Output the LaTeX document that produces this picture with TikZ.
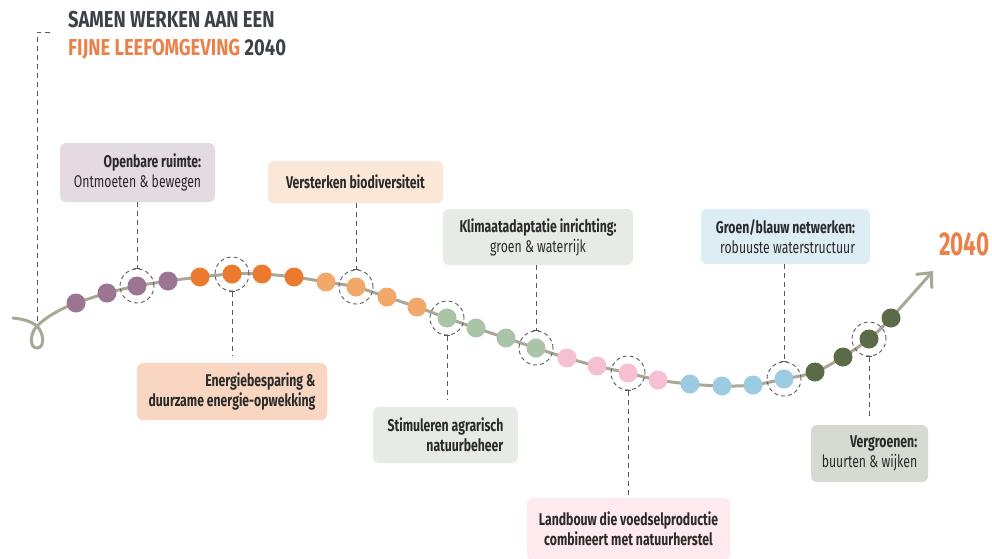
\documentclass[tikz,border=0pt]{standalone}
\usepackage{fontspec}
\setmainfont{Fira Sans}[FakeStretch=0.72]
\newfontfamily\titlefont{Fira Sans}[FakeStretch=0.8]
\newfontfamily\bigfont{Fira Sans}[FakeStretch=0.68]
\usetikzlibrary{arrows.meta}
\definecolor{cpur}{HTML}{9B7592}
\definecolor{cora}{HTML}{EA7A30}
\definecolor{clor}{HTML}{F2A76B}
\definecolor{csag}{HTML}{A9C4A6}
\definecolor{cpin}{HTML}{F4C0D2}
\definecolor{cblu}{HTML}{9CCBE2}
\definecolor{cdgr}{HTML}{5B6B48}
\definecolor{ccur}{HTML}{ABA796}
\definecolor{cdash}{HTML}{5A5A5A}
\definecolor{bxa}{HTML}{E4DAE2}
\definecolor{bxb}{HTML}{FBE7D8}
\definecolor{bxc}{HTML}{E6EBE5}
\definecolor{bxd}{HTML}{DDEDF4}
\definecolor{bxe}{HTML}{F9D6C1}
\definecolor{bxf}{HTML}{E7EBE5}
\definecolor{bxg}{HTML}{FDE9EE}
\definecolor{bxh}{HTML}{D7DAD1}
\definecolor{tdark}{HTML}{2B2B2B}
\definecolor{ttitle}{HTML}{3D4148}
\definecolor{torange}{HTML}{E9824A}
\begin{document}
\begin{tikzpicture}[x=1pt,y=-1pt,
  dot/.style={circle,inner sep=0pt,minimum size=19pt,fill=#1},
  ring/.style={circle,inner sep=0pt,minimum size=34pt,draw=cdash,line width=0.9pt,dash pattern=on 4pt off 3pt},
  lbox/.style={rounded corners=6pt,fill=#1,inner sep=0pt,font=\fontsize{17}{20}\selectfont,text=tdark},
  conn/.style={draw=cdash,line width=0.9pt,dash pattern=on 5pt off 4pt},
  curve/.style={draw=ccur,line width=3pt,line cap=round}]
\clip (0,0) rectangle (992,558);
\fill[white] (0,0) rectangle (992,558);
% title
\node[anchor=base west,inner sep=0pt,font=\titlefont\bfseries\fontsize{23}{27}\selectfont,text=ttitle] (t1) at (68,27) {SAMEN WERKEN AAN EEN};
\node[anchor=base west,inner sep=0pt,font=\titlefont\bfseries\fontsize{23}{27}\selectfont,text=ttitle] (t2) at (68,55) {\textcolor{torange}{FIJNE LEEFOMGEVING} 2040};
\node[anchor=base west,inner sep=0pt,font=\bigfont\bfseries\fontsize{33}{37}\selectfont,text=torange] (y2040) at (939,255) {2040};
% left dashed line
\coordinate (k0) at (50,32);
\coordinate (k1) at (37,32);
\coordinate (k2) at (37,325);
\draw[conn] (k0) -- (k1) -- (k2);
% curve with loop
\draw[curve] (13,318) .. controls (24,319) and (32,322) .. (37,326) .. controls (44,333) and (45,348) .. (37,348) .. controls (29,348) and (30,333) .. (37,326) .. controls (46,317) and (60,309) .. (76,303);
\draw[curve,-{Straight Barb[length=11pt,width=20pt,line cap=round]}] plot[smooth,tension=0.55] coordinates {(76,303) (107,293) (137,286) (168,281) (200,277) (232,274) (262,274) (294,277) (326,282) (356,287) (387,297) (417,307) (447,318) (476,328) (506,338) (536,348) (567,358) (597,366) (628,373) (658,380) (690,384) (722,386) (753,385) (784,379) (815,372) (843,357) (869,339) (891,318) (933,271)};
% dots
\foreach \n/\x/\y/\c in {1/76/303/cpur,2/107/293/cpur,3/137/286/cpur,4/168/281/cpur,
  5/200/277/cora,6/232/274/cora,7/262/274/cora,8/294/277/cora,
  9/326/282/clor,10/356/287/clor,11/387/297/clor,12/417/307/clor,
  13/447/318/csag,14/476/328/csag,15/506/338/csag,16/536/348/csag,
  17/567/358/cpin,18/597/366/cpin,19/628/373/cpin,20/658/380/cpin,
  21/690/384/cblu,22/722/386/cblu,23/753/385/cblu,24/784/379/cblu,
  25/815/372/cdgr,26/843/357/cdgr,27/869/339/cdgr,28/891/318/cdgr}
  \node[dot=\c] (d\n) at (\x,\y) {};
% rings
\foreach \n in {3,6,10,13,16,19,24,27}
  \node[ring] (r\n) at (d\n) {};
% boxes
\node[lbox=bxa,minimum width=155pt,minimum height=59pt,align=right] (b1) at (137.5,172.5) {\textbf{Openbare ruimte:}\\Ontmoeten \& bewegen};
\node[lbox=bxb,minimum width=175pt,minimum height=42pt,align=center] (b2) at (355.5,182) {\textbf{Versterken biodiversiteit}};
\node[lbox=bxc,minimum width=190pt,minimum height=56pt,align=center] (b3) at (538,237) {\textbf{Klimaatadaptatie inrichting:}\\groen \& waterrijk};
\node[lbox=bxd,minimum width=169pt,minimum height=55pt,align=right] (b4) at (785.5,236.5) {\textbf{Groen/blauw netwerken:}\\robuuste waterstructuur};
\node[lbox=bxe,minimum width=190pt,minimum height=57pt,align=right] (b5) at (232,391.5) {\textbf{Energiebesparing \&}\\\textbf{duurzame energie-opwekking}};
\node[lbox=bxf,minimum width=145pt,minimum height=56pt,align=right] (b6) at (445.5,435) {\textbf{Stimuleren agrarisch}\\\textbf{natuurbeheer}};
\node[lbox=bxg,minimum width=203pt,minimum height=62pt,align=center] (b7) at (628.5,529) {\textbf{Landbouw die voedselproductie}\\\textbf{combineert met natuurherstel}};
\node[lbox=bxh,minimum width=117pt,minimum height=57pt,align=right] (b8) at (869.5,453.5) {\textbf{Vergroenen:}\\buurten \& wijken};
% connectors
\draw[conn,-{Bar[width=6pt]}] (b1.south -| r3.north) -- (r3.north);
\draw[conn,-{Bar[width=6pt]}] (b2.south -| r10.north) -- (r10.north);
\draw[conn,-{Bar[width=6pt]}] (b3.south -| r16.north) -- (r16.north);
\draw[conn,-{Bar[width=6pt]}] (b4.south -| r24.north) -- (r24.north);
\draw[conn,{Bar[width=6pt]}-,shorten >=7pt] (r6.south) -- (b5.north -| r6.south);
\draw[conn,{Bar[width=6pt]}-,shorten >=7pt] (r13.south) -- (b6.north -| r13.south);
\draw[conn,{Bar[width=6pt]}-,shorten >=3pt] (r19.south) -- (b7.north -| r19.south);
\draw[conn,{Bar[width=6pt]}-,shorten >=5pt] (r27.south) -- (b8.north -| r27.south);
\end{tikzpicture}
\end{document}
